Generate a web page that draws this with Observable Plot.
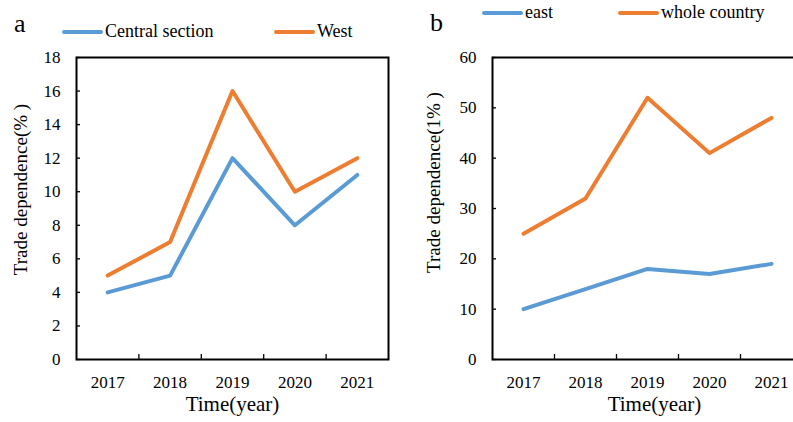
<!DOCTYPE html>
<html>
<head>
<meta charset="utf-8">
<script src="https://cdn.jsdelivr.net/npm/d3@7"></script>
<script src="https://cdn.jsdelivr.net/npm/@observablehq/plot@0.6"></script>
<style>
  html, body { margin: 0; padding: 0; background: #fff; }
  #wrap { position: relative; width: 793px; height: 422px; overflow: hidden; font-family: "Liberation Serif", "Times New Roman", serif; }
  .panel { position: absolute; top: 0; }
  .lab { position: absolute; font-size: 26px; line-height: 1; color: #000; }
  .leg { position: absolute; font-size: 18px; line-height: 1; color: #000; white-space: nowrap; }
  .sw { position: absolute; height: 4px; }
</style>
</head>
<body>
<div id="wrap"></div>
<script>
const years = [2017, 2018, 2019, 2020, 2021];
const central = [4, 5, 12, 8, 11];
const west = [5, 7, 16, 10, 12];
const east = [10, 14, 18, 17, 19];
const whole = [25, 32, 52, 41, 48];
const yTicksA = [0, 2, 4, 6, 8, 10, 12, 14, 16, 18];
const yTicksB = [0, 10, 20, 30, 40, 50, 60];

const blue = "#5B9BD5";
const orange = "#ED7D31";
const font = "Liberation Serif";

const boundaries = years.slice(0, -1).map(y => y + 0.5);

function panel({width, marginLeft, marginRight, yDomain, yTicks, s1, s2, yLabel, yLabelDx, yLabelDy, xLabelDx}) {
  const rows = [];
  years.forEach((y, i) => { rows.push({year: y, v: s1[i], s: "a"}); });
  years.forEach((y, i) => { rows.push({year: y, v: s2[i], s: "b"}); });
  return Plot.plot({
    width, height: 422,
    marginLeft, marginRight, marginTop: 57, marginBottom: 63,
    style: {fontFamily: font, fontSize: "17px", color: "#000", background: "transparent"},
    x: {domain: [years[0] - 0.5, years[years.length - 1] + 0.5]},
    y: {domain: yDomain},
    marks: [
      Plot.axisX({ticks: boundaries, tickSize: -5, text: null, label: null, strokeWidth: 1.3}),
      Plot.axisX({ticks: years, tickSize: 0, tickPadding: 16, tickFormat: d => String(d), label: null, fontSize: 17}),
      Plot.axisY({ticks: yTicks, tickSize: -4, tickPadding: 20, tickFormat: d => String(d), label: null, fontSize: 17, strokeWidth: 1.3}),
      Plot.lineY(rows.filter(d => d.s === "a"), {x: "year", y: "v", stroke: blue, strokeWidth: 4}),
      Plot.lineY(rows.filter(d => d.s === "b"), {x: "year", y: "v", stroke: orange, strokeWidth: 4}),
      Plot.frame({stroke: "#000", strokeWidth: 2}),
      Plot.text([yLabel], {text: d => d, frameAnchor: "left", textAnchor: "middle", rotate: -90, dx: yLabelDx, dy: yLabelDy, fontSize: 19}),
      Plot.text(["Time(year)"], {text: d => d, frameAnchor: "bottom", textAnchor: "middle", dy: 51, dx: xLabelDx, fontSize: 21})
    ]
  });
}

const wrap = document.getElementById("wrap");

const pa = panel({width: 400, marginLeft: 76, marginRight: 12, yDomain: [0, 18], yTicks: yTicksA,
  s1: central, s2: west, yLabel: "Trade dependence(% )", yLabelDx: -56, yLabelDy: -19, xLabelDx: 0});
pa.classList.add("panel"); pa.style.left = "0px";
wrap.appendChild(pa);

const pb = panel({width: 404, marginLeft: 92, marginRight: 2, yDomain: [0, 60], yTicks: yTicksB,
  s1: east, s2: whole, yLabel: "Trade dependence(1% )", yLabelDx: -59, yLabelDy: -26, xLabelDx: 7});
pb.classList.add("panel"); pb.style.left = "400px";
wrap.appendChild(pb);

function addDiv(cls, left, top, text, extra) {
  const d = document.createElement("div");
  d.className = cls;
  d.style.left = left + "px";
  d.style.top = top + "px";
  if (text) d.textContent = text;
  if (extra) Object.assign(d.style, extra);
  wrap.appendChild(d);
}

// panel letters
addDiv("lab", 14, 11, "a");
addDiv("lab", 430, 10, "b");

// legends
const legA = [{name: "Central section", color: blue, x: 62, y: 32}, {name: "West", color: orange, x: 274, y: 32}];
const legB = [{name: "east", color: blue, x: 482, y: 13}, {name: "whole country", color: orange, x: 618, y: 13}];
[...legA, ...legB].forEach(l => {
  addDiv("sw", l.x, l.y - 2, null, {width: "41px", background: l.color, borderRadius: "2px"});
  addDiv("leg", l.x + 43, l.y - 10, l.name);
});
</script>
</body>
</html>
